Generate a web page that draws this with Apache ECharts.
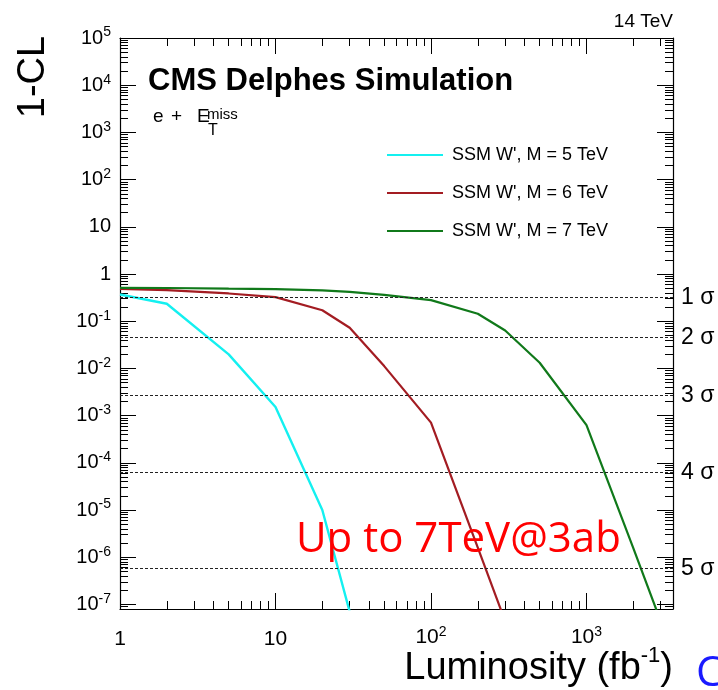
<!DOCTYPE html>
<html>
<head>
<meta charset="utf-8">
<script src="https://cdn.jsdelivr.net/npm/echarts@6/dist/echarts.min.js"></script>
<style>
html,body{margin:0;padding:0;background:#fff;}
#chart{width:718px;height:690px;}
</style>
</head>
<body>
<div id="chart"></div>
<script>
// ---- data ----
const seriesNames = ["SSM W', M = 5 TeV", "SSM W', M = 6 TeV", "SSM W', M = 7 TeV"];
const m5Lumi = [1, 2, 5, 10, 20, 30];
const m5Pval = [0.368, 0.234, 0.0198, 0.00152, 1.0e-5, 7e-8];
const m6Lumi = [1, 2, 5, 10, 20, 30, 50, 100, 200, 300];
const m6Pval = [0.486, 0.455, 0.387, 0.323, 0.171, 0.0727, 0.0112, 7.1e-4, 1.6e-6, 4.4e-8];
const m7Lumi = [1, 2, 5, 10, 20, 30, 50, 100, 200, 300, 500, 1000, 2000, 3000];
const m7Pval = [0.51, 0.505, 0.49, 0.48, 0.45, 0.42, 0.36, 0.28, 0.144, 0.0637, 0.0132, 6.3e-4, 1.56e-6, 4.4e-8];
const sigmaLevels = [0.3173, 0.0455, 0.0027, 6.334e-5, 5.733e-7];
const sigmaLabels = ['1 σ', '2 σ', '3 σ', '4 σ', '5 σ'];
const xMajorTicks = [1, 10, 100, 1000];
const yMajorTicks = [1e-7, 1e-6, 1e-5, 1e-4, 1e-3, 1e-2, 1e-1, 1, 10, 100, 1e3, 1e4, 1e5];
const minorMultipliers = [2, 3, 4, 5, 6, 7, 8, 9];
const xRange = [1, 3600];
const yRange = [8e-8, 1e5];

// minor tick positions (axis decoration only)
const xMinorTicks = [];
xMajorTicks.forEach(d => minorMultipliers.forEach(m => { const v = d * m; if (v <= xRange[1]) xMinorTicks.push(v); }));
const yMinorTicks = [];
[1e-8].concat(yMajorTicks).forEach(d => minorMultipliers.forEach(m => { const v = d * m; if (v >= yRange[0] * 0.999 && v <= yRange[1]) yMinorTicks.push(v); }));

const FONT = '"Liberation Sans", Arial, Helvetica, sans-serif';

function expOf(v) { return Math.round(Math.log10(v)); }
function isDecade(v) { const e = expOf(v); return Math.abs(v / Math.pow(10, e) - 1) < 1e-6; }
function xFmt(v) {
  if (!isDecade(v)) return '';
  const e = expOf(v);
  if (e === 0) return '{p|1}';
  if (e === 1) return '{p|10}';
  return '{b|10}{s|' + e + '}';
}
function yFmt(v) {
  if (!isDecade(v)) return '';
  const e = expOf(v);
  if (e === 0) return '{b|1}';
  if (e === 1) return '{b|10}';
  return '{b|10}{s|' + e + '}';
}

const tickLine = { color: '#000', width: 1 };
function xAxisDef(pos, major) {
  return {
    type: 'log', logBase: 10, min: xRange[0], max: xRange[1], position: pos, gridIndex: 0,
    axisLine: { show: major, onZero: false, lineStyle: { color: '#000', width: 1.2 } },
    axisTick: { show: true, inside: true, length: major ? 16 : 8, customValues: major ? xMajorTicks : xMinorTicks, lineStyle: tickLine },
    axisLabel: (major && pos === 'bottom') ? {
      show: true, customValues: xMajorTicks, formatter: xFmt, margin: 16, color: '#000',
      rich: {
        b: { fontSize: 21, fontFamily: FONT, color: '#000' },
        p: { fontSize: 21, fontFamily: FONT, color: '#000', padding: [4, 0, 0, 0] },
        s: { fontSize: 14, fontFamily: FONT, color: '#000', padding: [0, 0, 11, 0] }
      }
    } : { show: false },
    splitLine: { show: false }, minorTick: { show: false }, minorSplitLine: { show: false }
  };
}
function yAxisDef(pos, major) {
  return {
    type: 'log', logBase: 10, min: yRange[0], max: yRange[1], position: pos, gridIndex: 0,
    axisLine: { show: major, onZero: false, lineStyle: { color: '#000', width: 1.2 } },
    axisTick: { show: true, inside: true, length: major ? 16 : 8, customValues: major ? yMajorTicks : yMinorTicks, lineStyle: tickLine },
    axisLabel: (major && pos === 'left') ? {
      show: true, customValues: yMajorTicks, formatter: yFmt, margin: 9, color: '#000',
      rich: {
        b: { fontSize: 20, fontFamily: FONT, color: '#000' },
        s: { fontSize: 14, fontFamily: FONT, color: '#000', padding: [0, 0, 11, 0] }
      }
    } : { show: false },
    splitLine: { show: false }, minorTick: { show: false }, minorSplitLine: { show: false }
  };
}

function pairs(xs, ys) { return xs.map((x, i) => [x, ys[i]]); }

const chart = echarts.init(document.getElementById('chart'), null, { renderer: 'canvas' });
chart.setOption({
  animation: false,
  backgroundColor: '#fff',
  textStyle: { fontFamily: FONT },
  grid: { left: 120, right: 45, top: 38, bottom: 81, containLabel: false },
  xAxis: [xAxisDef('bottom', true), xAxisDef('bottom', false), xAxisDef('top', true), xAxisDef('top', false)],
  yAxis: [yAxisDef('left', true), yAxisDef('left', false), yAxisDef('right', true), yAxisDef('right', false)],
  legend: {
    orient: 'vertical', left: 387, top: 146, padding: 0,
    itemWidth: 56, itemHeight: 2, itemGap: 20, icon: 'rect',
    textStyle: { fontSize: 18, fontFamily: FONT, color: '#000', lineHeight: 18, padding: [0, 0, 0, 4] },
    data: seriesNames
  },
  series: [
    {
      name: seriesNames[0], type: 'line', xAxisIndex: 0, yAxisIndex: 0,
      data: pairs(m5Lumi, m5Pval), symbol: 'none', clip: true,
      lineStyle: { color: '#14f0f0', width: 2.4 }, itemStyle: { color: '#14f0f0' },
      markLine: {
        silent: true, symbol: ['none', 'none'], precision: 12,
        lineStyle: { color: '#222', width: 1, type: [3, 2] },
        label: { show: true, position: 'end', distance: 8, fontSize: 23, fontFamily: FONT, color: '#000' },
        data: sigmaLevels.map((v, i) => ({ yAxis: v, label: { formatter: sigmaLabels[i] } }))
      },
      z: 3
    },
    {
      name: seriesNames[1], type: 'line', xAxisIndex: 0, yAxisIndex: 0,
      data: pairs(m6Lumi, m6Pval), symbol: 'none', clip: true,
      lineStyle: { color: '#a31c22', width: 2.2 }, itemStyle: { color: '#a31c22' }, z: 3
    },
    {
      name: seriesNames[2], type: 'line', xAxisIndex: 0, yAxisIndex: 0,
      data: pairs(m7Lumi, m7Pval), symbol: 'none', clip: true,
      lineStyle: { color: '#10791a', width: 2.2 }, itemStyle: { color: '#10791a' }, z: 3
    }
  ],
  graphic: [
    { type: 'text', x: 673, y: 22, style: { text: '14 TeV', fontSize: 19, fontFamily: FONT, fill: '#000', align: 'right', verticalAlign: 'middle' } },
    { type: 'text', x: 148, y: 81, style: { text: 'CMS Delphes Simulation', fontSize: 31, fontWeight: 'bold', fontFamily: FONT, fill: '#000', align: 'left', verticalAlign: 'middle' } },
    { type: 'text', x: 153, y: 117, style: { text: 'e', fontSize: 19, fontFamily: FONT, fill: '#000', align: 'left', verticalAlign: 'middle' } },
    { type: 'text', x: 171, y: 117, style: { text: '+', fontSize: 19, fontFamily: FONT, fill: '#000', align: 'left', verticalAlign: 'middle' } },
    { type: 'text', x: 197, y: 117, style: { text: 'E', fontSize: 19, fontFamily: FONT, fill: '#000', align: 'left', verticalAlign: 'middle' } },
    { type: 'text', x: 207, y: 115, style: { text: 'miss', fontSize: 15, fontFamily: FONT, fill: '#000', align: 'left', verticalAlign: 'middle' } },
    { type: 'text', x: 208, y: 131, style: { text: 'T', fontSize: 16, fontFamily: FONT, fill: '#000', align: 'left', verticalAlign: 'middle' } },
    { type: 'text', x: 34, y: 77, rotation: Math.PI / 2, style: { text: '1-CL', fontSize: 38, fontFamily: FONT, fill: '#000', align: 'center', verticalAlign: 'middle' } },
    { type: 'text', x: 673, y: 669, style: {
        text: '{a|Luminosity (fb}{s|-1}{a|)}', align: 'right', verticalAlign: 'middle',
        rich: { a: { fontSize: 38, fontFamily: FONT, fill: '#000', color: '#000' }, s: { fontSize: 22, fontFamily: FONT, fill: '#000', color: '#000', padding: [0, 0, 26, 0] } }
      } },
    { type: 'text', x: 296, y: 540, z: 10, style: { text: 'Up to 7TeV@3ab', fontSize: 42, fontFamily: '"Open Sans", "Liberation Sans", sans-serif', fill: '#ff0000', align: 'left', verticalAlign: 'middle' } },
    { type: 'text', x: 696, y: 674, style: { text: 'C', fontSize: 42, fontFamily: '"Open Sans", "Liberation Sans", sans-serif', fill: '#1a1aff', align: 'left', verticalAlign: 'middle' } }
  ]
});
</script>
</body>
</html>
